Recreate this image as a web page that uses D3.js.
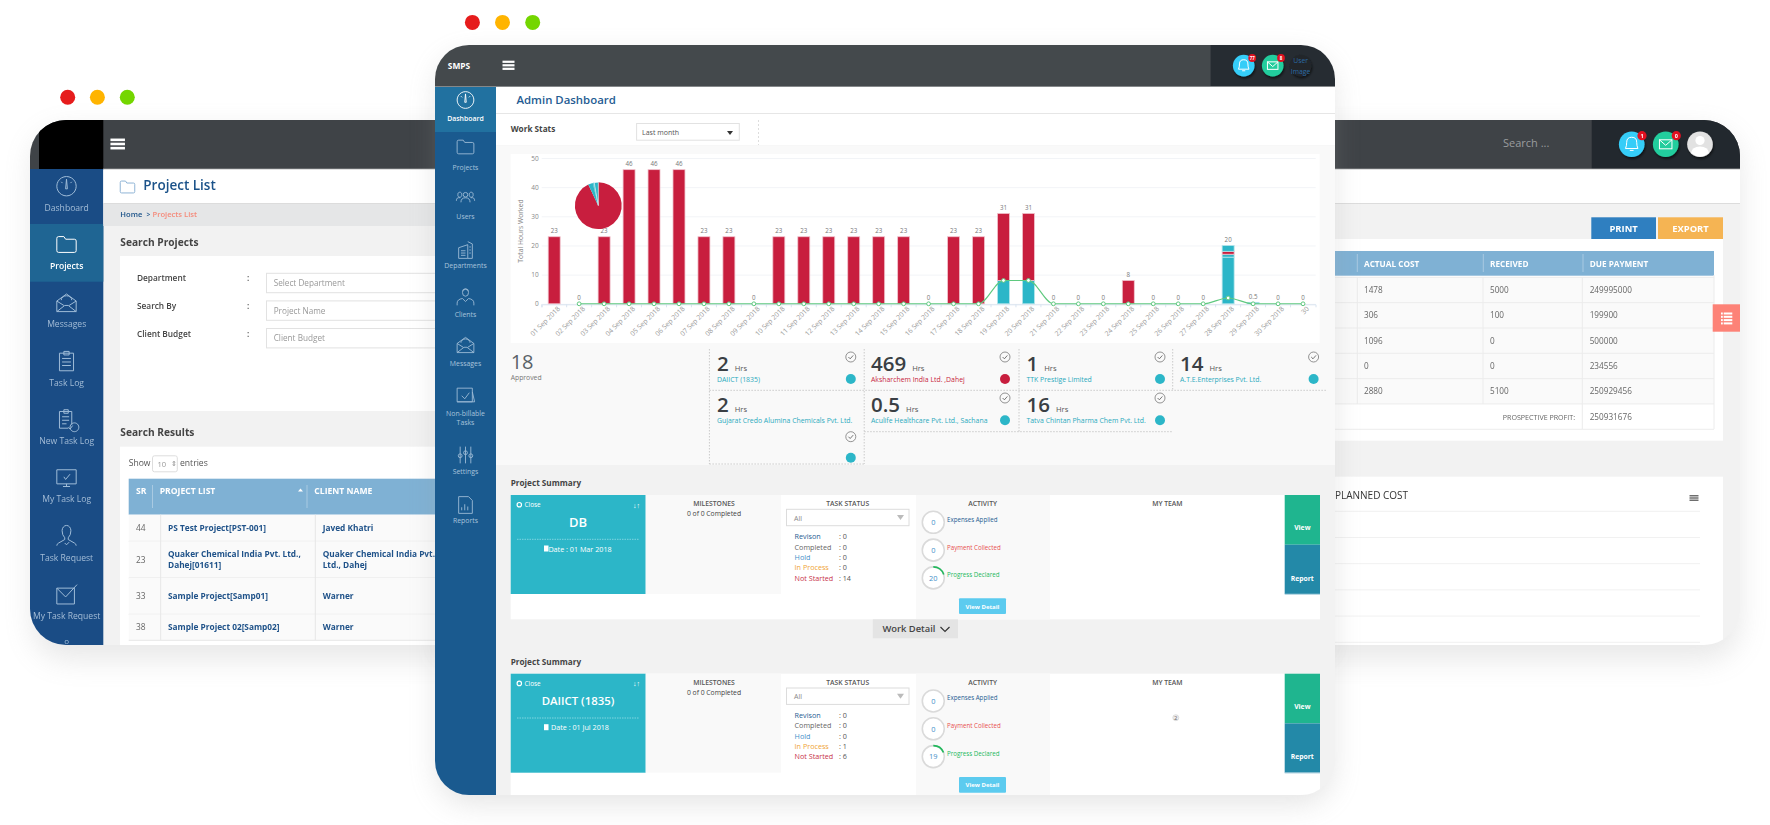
<!DOCTYPE html>
<html>
<head>
<meta charset="utf-8">
<title>SMPS dashboard</title>
<script src="https://cdn.jsdelivr.net/npm/d3@7/dist/d3.min.js"></script>
<style>
  html, body { margin: 0; padding: 0; background: #fff; overflow: hidden; }
  svg { display: block; filter: blur(0.3px); }
  text { font-family: "Open Sans", sans-serif; }
</style>
</head>
<body>
<div id="chart"></div>
<script>
'use strict';

// ─── Data ────────────────────────────────────────────────────────────────────

const dayLabels = ['01 Sep 2018', '02 Sep 2018', '03 Sep 2018', '04 Sep 2018', '05 Sep 2018', '06 Sep 2018',
  '07 Sep 2018', '08 Sep 2018', '09 Sep 2018', '10 Sep 2018', '11 Sep 2018', '12 Sep 2018', '13 Sep 2018',
  '14 Sep 2018', '15 Sep 2018', '16 Sep 2018', '17 Sep 2018', '18 Sep 2018', '19 Sep 2018', '20 Sep 2018',
  '21 Sep 2018', '22 Sep 2018', '23 Sep 2018', '24 Sep 2018', '25 Sep 2018', '26 Sep 2018', '27 Sep 2018',
  '28 Sep 2018', '29 Sep 2018', '30 Sep 2018', '30'];
const tealLower = [0, 0, 0, 0, 0, 0, 0, 0, 0, 0, 0, 0, 0, 0, 0, 0, 0, 0, 8, 8, 0, 0, 0, 0, 0, 0, 0, 16, 0.5, 0, 0];
const tealMiddle = [0, 0, 0, 0, 0, 0, 0, 0, 0, 0, 0, 0, 0, 0, 0, 0, 0, 0, 0, 0, 0, 0, 0, 0, 0, 0, 0, 1, 0, 0, 0];
const redHours = [23, 0, 23, 46, 46, 46, 23, 23, 0, 23, 23, 23, 23, 23, 23, 0, 23, 23, 23, 23, 0, 0, 0, 8, 0, 0, 0, 1, 0, 0, 0];
const tealUpper = [0, 0, 0, 0, 0, 0, 0, 0, 0, 0, 0, 0, 0, 0, 0, 0, 0, 0, 0, 0, 0, 0, 0, 0, 0, 0, 0, 2, 0, 0, 0];
const lineHours = [null, 0, 0, 0, 0, 0, 0, 0, 0, 0, 0, 0, 0, 0, 0, 0, 0, 0, 8, 8, 0, 0, 0, 0, 0, 0, 0, 2, 0, 0, 0];
const yTicks = [0, 10, 20, 30, 40, 50];
const pieHours = [469, 16, 2, 1, 2, 0.5, 14];

const statHours = [2, 469, 1, 14, 2, 0.5, 16];
const statNames = ['DAIICT (1835)', 'Aksharchem India Ltd. ,Dahej', 'TTK Prestige Limited', 'A.T.E.Enterprises Pvt. Ltd.',
  'Gujarat Credo Alumina Chemicals Pvt. Ltd.', 'Aculife Healthcare Pvt. Ltd., Sachana', 'Tatva Chintan Pharma Chem Pvt. Ltd.'];

const summaryNames = ['DB', 'DAIICT (1835)'];
const summaryDates = ['Date : 01 Mar 2018', 'Date : 01 Jul 2018'];
const statusLabels = ['Revison', 'Completed', 'Hold', 'In Process', 'Not Started'];
const summaryStatus = [[0, 0, 0, 0, 14], [0, 0, 0, 1, 6]];
const activityLabels = ['Expenses Applied', 'Payment Collected', 'Progress Declared'];
const summaryActivity = [[0, 0, 20], [0, 0, 19]];

const frontNav = ['Dashboard', 'Projects', 'Users', 'Departments', 'Clients', 'Messages', 'Non-billable', 'Settings', 'Reports'];
const backNav = ['Dashboard', 'Projects', 'Messages', 'Task Log', 'New Task Log', 'My Task Log', 'Task Request', 'My Task Request'];
const searchLabels = ['Department', 'Search By', 'Client Budget'];
const searchHints = ['Select Department', 'Project Name', 'Client Budget'];
const resultSr = ['44', '23', '33', '38'];
const resultProjects = [['PS Test Project[PST-001]'], ['Quaker Chemical India Pvt. Ltd.,', 'Dahej[01611]'], ['Sample Project[Samp01]'], ['Sample Project 02[Samp02]']];
const resultClients = [['Javed Khatri'], ['Quaker Chemical India Pvt.', 'Ltd., Dahej'], ['Warner'], ['Warner']];
const costHeaders = ['ACTUAL COST', 'RECEIVED', 'DUE PAYMENT'];
const actualCost = ['1478', '306', '1096', '0', '2880'];
const received = ['5000', '100', '0', '0', '5100'];
const duePayment = ['249995000', '199900', '500000', '234556', '250929456'];
const prospectiveProfit = '250931676';

// ─── Colours ─────────────────────────────────────────────────────────────────

const RED = '#c81e3e';
const TEAL = '#2cb6c8';
const STATUS_COLORS = ['#1f5c92', '#666', '#3f8fc9', '#f0a436', '#c8324a'];
const ACTIVITY_COLORS = ['#1f5c92', '#e8504f', '#22b85c'];

// ─── Helpers ─────────────────────────────────────────────────────────────────

const svg = d3.select('#chart').append('svg').attr('width', 1770).attr('height', 825);
const defs = svg.append('defs');

function box(p, x, y, w, h, fill, rx) {
  const r = p.append('rect').attr('x', x).attr('y', y).attr('width', w).attr('height', h).attr('fill', fill);
  if (rx) r.attr('rx', rx);
  return r;
}

function label(p, x, y, s, size, fill, weight, anchor) {
  return p.append('text').attr('x', x).attr('y', y)
    .attr('font-size', size).attr('fill', fill)
    .attr('font-weight', weight || 400)
    .attr('text-anchor', anchor || 'start')
    .text(s);
}

function rule(p, x1, y1, x2, y2, color, dash) {
  const l = p.append('line').attr('x1', x1).attr('y1', y1).attr('x2', x2).attr('y2', y2)
    .attr('stroke', color).attr('stroke-width', 1);
  if (dash) l.attr('stroke-dasharray', dash);
  return l;
}

function burger(p, cx, cy, w, color, h) {
  [-1, 0, 1].forEach(i => box(p, cx - w / 2, cy + i * h * 1.6 - h / 2, w, h, color));
}

// Outline icons, drawn in a 24x24 box centred on (cx, cy)
const ICONS = {
  gauge: 'M0,-11A11,11 0 1 1 -0.01,-11ZM-1,3L0,-8L1,3ZM-6,-5L-4.5,-3.5M6,-5L4.5,-3.5',
  folder: 'M-11,-7Q-11,-9 -9,-9H-3L-1,-6H9Q11,-6 11,-4V7Q11,9 9,9H-9Q-11,9 -11,7Z',
  users: 'M-3,-3A3,3 0 1 1 3,-3A3,3 0 1 1 -3,-3ZM-6,7Q-6,1 0,1Q6,1 6,7M-10,-3A2.6,2.6 0 1 1 -5,-3A2.6,2.6 0 1 1 -10,-3ZM5,-3A2.6,2.6 0 1 1 10,-3A2.6,2.6 0 1 1 5,-3ZM-12,5Q-12,0 -7,1M12,5Q12,0 7,1',
  building: 'M-9,11V-3L3,-7V11ZM3,-11L9,-8V11H3M-6,1H0M-6,4H0M-6,7H0M5,-4H7M5,0H7M5,4H7',
  client: 'M-4,-6A4,5 0 1 1 4,-6A4,5 0 1 1 -4,-6ZM-11,11V8Q-11,3 -4,2L0,6L4,2Q11,3 11,8V11M-4,-8Q0,-12 4,-8',
  mail: 'M-11,-2L0,-10L11,-2V10H-11ZM-11,10L-2,3H2L11,10M-11,-2L-3,3M11,-2L3,3M-6,-3A6,5 0 1 1 6,-3',
  check: 'M-11,-9H9V9H-11ZM9,-4L12,9H-11M-5,1L-1,5L5,-3',
  sliders: 'M-7,-11V11M0,-11V11M7,-11V11M-9.5,1A2.5,2.5 0 1 0 -4.5,1A2.5,2.5 0 1 0 -9.5,1ZM-2.5,-3A2.5,2.5 0 1 0 2.5,-3A2.5,2.5 0 1 0 -2.5,-3ZM4.5,1A2.5,2.5 0 1 0 9.5,1A2.5,2.5 0 1 0 4.5,1Z',
  report: 'M-9,-11H4L9,-6V11H-9ZM-5,7V3M-1,7V-1M3,7V2',
  clipboard: 'M-8,-9H8V11H-8ZM-3,-11H3V-7H-3ZM-5,-3H5M-5,1H5M-5,5H5',
  newlog: 'M-8,-9H6V6M-8,-9V10H2M-3,-11H2V-7H-3ZM-5,-3H3M-5,1H3M-5,5H0M4,9A5,5 0 1 0 4,8.9ZM2,9L4,11L7,7',
  monitor: 'M-11,-9H11V7H-11ZM-4,10H4M0,7V10M-3,-1L-1,2L4,-4',
  person: 'M-5,-6A5,6 0 1 1 5,-6Q5,-1 2,2V4L9,8Q11,9 11,11M-5,-6Q-5,-1 -2,2V4L-9,8Q-11,9 -11,11M-2,8L0,10L3,7',
  request: 'M-11,-7H9V11H-11ZM-11,-7L-1,3L12,-11'
};

function icon(p, name, cx, cy, k, color, width) {
  return p.append('path').attr('d', ICONS[name])
    .attr('transform', `translate(${cx},${cy}) scale(${k})`)
    .attr('fill', 'none').attr('stroke', color).attr('stroke-width', (width || 1) / k);
}

function envelope(p, cx, cy, w, h, color) {
  p.append('rect').attr('x', cx - w / 2).attr('y', cy - h / 2).attr('width', w).attr('height', h)
    .attr('fill', 'none').attr('stroke', color);
  p.append('path').attr('d', `M${cx - w / 2},${cy - h / 2}L${cx},${cy + 1}L${cx + w / 2},${cy - h / 2}`)
    .attr('fill', 'none').attr('stroke', color);
}

function bell(p, cx, cy, k, color) {
  p.append('path')
    .attr('d', 'M-5,4Q-4,2 -4,-1Q-4,-5 0,-5Q4,-5 4,-1Q4,2 5,4ZM-1.5,5.5H1.5')
    .attr('transform', `translate(${cx},${cy}) scale(${k})`)
    .attr('fill', 'none').attr('stroke', color).attr('stroke-width', 1 / k);
}

// Filters and window clips
const winShadow = defs.append('filter').attr('id', 'winShadow').attr('x', '-10%').attr('y', '-15%').attr('width', '120%').attr('height', '130%');
winShadow.append('feGaussianBlur').attr('stdDeviation', 14);
const badgeShadow = defs.append('filter').attr('id', 'badgeShadow').attr('x', '-50%').attr('y', '-50%').attr('width', '200%').attr('height', '200%');
badgeShadow.append('feDropShadow').attr('dx', 1).attr('dy', 2).attr('stdDeviation', 1.2).attr('flood-color', '#000').attr('flood-opacity', 0.55);

defs.append('clipPath').attr('id', 'backClip').append('rect')
  .attr('x', 30).attr('y', 120).attr('width', 1710).attr('height', 525).attr('rx', 36);
defs.append('clipPath').attr('id', 'frontClip').append('rect')
  .attr('x', 435).attr('y', 45).attr('width', 900).attr('height', 750).attr('rx', 34);

// ─── Back window ─────────────────────────────────────────────────────────────

function drawBackWindow() {
  box(svg, 32, 130, 1708, 530, '#9a9a9a', 36).attr('opacity', 0.22).attr('filter', 'url(#winShadow)');
  [[67.7, '#e61c1c'], [97.4, '#ffb400'], [127.3, '#74d600']].forEach(d => {
    svg.append('circle').attr('cx', d[0]).attr('cy', 97.3).attr('r', 7.5).attr('fill', d[1]);
  });

  const g = svg.append('g').attr('clip-path', 'url(#backClip)');
  box(g, 30, 120, 1710, 525, '#f2f2f2');

  // top bar
  box(g, 30, 120, 1710, 49, '#3f4347');
  box(g, 39, 120, 64.3, 49, '#000');
  box(g, 1591.7, 120, 150, 49, '#22282e');
  rule(g, 103, 169, 1740, 169, '#8a8d8f');
  burger(g, 117.7, 144, 14.5, '#fff', 2.6);
  label(g, 1503, 146.7, 'Search ...', 11, '#9a9c9e');

  [[1631.7, '#36cdf8'], [1665.7, '#22cd9d'], [1700, '#e2e2e2']].forEach(d => {
    g.append('circle').attr('cx', d[0]).attr('cy', 144.3).attr('r', 12.8).attr('fill', d[1]).attr('filter', 'url(#badgeShadow)');
  });
  bell(g, 1631.7, 143.5, 1.25, '#fff');
  envelope(g, 1665.7, 144.3, 12.5, 9, '#fff');
  g.append('circle').attr('cx', 1700).attr('cy', 140.5).attr('r', 4.6).attr('fill', '#fff');
  g.append('path').attr('d', 'M1691,153Q1692,146.5 1700,146.5Q1708,146.5 1709,153Q1700,160 1691,153Z').attr('fill', '#fff');
  [[1642, '1'], [1676.3, '0']].forEach(d => {
    g.append('circle').attr('cx', d[0]).attr('cy', 135.7).attr('r', 4.6).attr('fill', '#e01020');
    label(g, d[0], 137.6, d[1], 5.5, '#fff', 700, 'middle');
  });

  // sidebar
  box(g, 30, 169, 73.3, 476, '#1a4c85');
  box(g, 30, 224, 73.3, 57.7, '#1f6593');
  const backIcons = ['gauge', 'folder', 'mail', 'clipboard', 'newlog', 'monitor', 'person', 'request'];
  backNav.forEach((name, i) => {
    const y = 210.7 + i * 58.3;
    const on = i === 1;
    label(g, 66.7, y, name, 8.6, on ? '#fff' : '#a4bdd7', on ? 600 : 400, 'middle');
    icon(g, backIcons[i], 66.5, y - 24.5, 0.88, on ? '#fff' : '#9fbcd8', 1);
  });
  label(g, 66.7, 644, 'o', 8, '#9fbcd8', 400, 'middle');

  // header + breadcrumb
  box(g, 103.3, 169.5, 1640, 34, '#fff');
  rule(g, 103.3, 203.5, 1740, 203.5, '#dcdcdc');
  icon(g, 'folder', 127.5, 187, 0.66, '#8fb4d6', 1);
  label(g, 143.3, 190, 'Project List', 13.5, '#1b5289', 600);
  box(g, 103.3, 204, 340, 22, '#e5e6e7');
  label(g, 120.3, 217.3, 'Home', 7.6, '#1b5289', 600);
  label(g, 146.5, 217.3, '>', 6.5, '#1b5289', 600);
  label(g, 152.5, 217.3, 'Projects List', 7.6, '#f58a7a', 600);

  // search form
  label(g, 120.3, 245.7, 'Search Projects', 10.2, '#444', 700);
  box(g, 120, 256, 320, 155, '#fff');
  searchLabels.forEach((name, i) => {
    const y = 281.3 + i * 27.6;
    label(g, 137, y, name, 8.3, '#444', 600);
    label(g, 247, y, ':', 8.3, '#444', 600);
    box(g, 266.5, y - 8, 180, 19.4, '#fff').attr('stroke', '#e2e2e2');
    label(g, 273.7, y + 4.7, searchHints[i], 8.2, '#999');
  });

  // results table
  label(g, 120.3, 436, 'Search Results', 10.2, '#444', 700);
  box(g, 120, 446.7, 320, 199, '#fff');
  label(g, 128.7, 465.7, 'Show', 8.6, '#555');
  box(g, 152.5, 455.8, 24.8, 16, '#fff', 2).attr('stroke', '#ddd');
  label(g, 157.5, 466.5, '10', 7.6, '#999');
  label(g, 170.5, 466, '⇕', 6.5, '#888');
  label(g, 180, 465.7, 'entries', 8.6, '#555');

  box(g, 128.7, 478.7, 320, 36, '#7fb1d4');
  label(g, 136, 494, 'SR', 8.6, '#fff', 700);
  label(g, 159.7, 494, 'PROJECT LIST', 8.6, '#fff', 700);
  label(g, 314.3, 494, 'CLIENT NAME', 8.6, '#fff', 700);
  rule(g, 152.5, 485, 152.5, 508, '#a9cae2');
  rule(g, 307, 485, 307, 508, '#a9cae2');
  g.append('path').attr('d', 'M298,491.5L303,491.5L300.5,488.5Z').attr('fill', '#fff');

  const rowTops = [514.7, 541.3, 578, 614.3, 640.3];
  resultSr.forEach((sr, i) => {
    const top = rowTops[i];
    const bottom = rowTops[i + 1];
    box(g, 128.7, top, 310, bottom - top, '#fafafa');
    rule(g, 128.7, bottom, 440, bottom, '#e7e7e7');
    const mid = (top + bottom) / 2;
    label(g, 136, mid + 3, sr, 8.4, '#666');
    const lines = resultProjects[i].length;
    resultProjects[i].forEach((s, j) => label(g, 168, mid + 3 + (j - (lines - 1) / 2) * 11.4, s, 8.3, '#1f5289', 700));
    resultClients[i].forEach((s, j) => label(g, 322.7, mid + 3 + (j - (resultClients[i].length - 1) / 2) * 11.4, s, 8.3, '#1f5289', 700));
  });
  rule(g, 160.7, 514.7, 160.7, 640, '#e7e7e7');
  rule(g, 315.3, 514.7, 315.3, 640, '#e7e7e7');

  // cost table on the right
  box(g, 1591.3, 217.3, 64.7, 22, '#2f7fc0');
  box(g, 1658, 217.3, 65, 22, '#f5b453');
  label(g, 1623.6, 231.8, 'PRINT', 9.4, '#fff', 700, 'middle');
  label(g, 1690.5, 231.8, 'EXPORT', 9.4, '#fff', 700, 'middle');
  box(g, 1300, 239, 423, 201.7, '#fff');
  box(g, 1300, 251, 414, 24.7, '#7fb1d4');

  const colX = [1364, 1490, 1589.7];
  costHeaders.forEach((h, i) => {
    label(g, colX[i], 266.5, h, 8.2, '#fff', 700);
    rule(g, colX[i] - 6.7, 254, colX[i] - 6.7, 272, '#a9cae2');
  });
  d3.range(5).forEach(i => box(g, 1300, 277.3 + i * 25.33, 414, 25.33, '#fafafa'));
  d3.range(7).forEach(i => rule(g, 1300, 277.3 + i * 25.33, 1714, 277.3 + i * 25.33, '#ececec'));
  [actualCost, received, duePayment].forEach((col, c) => {
    col.forEach((v, i) => label(g, colX[c], 293 + i * 25.33, v, 8.2, '#666'));
  });
  label(g, 1575, 419.6, 'PROSPECTIVE PROFIT:', 7.1, '#666', 400, 'end');
  label(g, colX[2], 419.6, prospectiveProfit, 8.2, '#666');
  rule(g, 1357.3, 277.3, 1357.3, 404, '#ececec');
  rule(g, 1483, 277.3, 1483, 404, '#ececec');
  rule(g, 1582.3, 277.3, 1582.3, 429, '#ececec');
  rule(g, 1714, 275, 1714, 429, '#ececec');

  // floating list button
  box(g, 1712.7, 304.3, 27.3, 27.4, '#fd8277');
  d3.range(4).forEach(i => {
    box(g, 1721, 312.5 + i * 3.3, 1.8, 2, '#fff');
    box(g, 1723.7, 312.5 + i * 3.3, 8.6, 2, '#fff');
  });

  // planned cost panel
  box(g, 1300, 476.7, 423, 170, '#fff');
  label(g, 1335, 498.7, 'PLANNED COST', 10, '#333');
  burger(g, 1694, 498, 9, '#666', 1.4);
  d3.range(6).forEach(i => rule(g, 1335, 511.3 + i * 26.2, 1700, 511.3 + i * 26.2, '#f1f1f1'));
}

// ─── Front window ────────────────────────────────────────────────────────────

function drawFrontWindow() {
  box(svg, 437, 56, 896, 748, '#9a9a9a', 34).attr('opacity', 0.26).attr('filter', 'url(#winShadow)');
  [[472.4, '#e61c1c'], [502.5, '#ffb400'], [532.7, '#74d600']].forEach(d => {
    svg.append('circle').attr('cx', d[0]).attr('cy', 22.4).attr('r', 7.5).attr('fill', d[1]);
  });

  const g = svg.append('g').attr('clip-path', 'url(#frontClip)');
  box(g, 435, 45, 900, 750, '#f2f2f2');

  // top bar
  box(g, 435, 45, 900, 41.5, '#44494c');
  box(g, 1210.6, 45, 125, 41.5, '#262c32');
  rule(g, 435, 86.5, 1335, 86.5, '#85888a');
  label(g, 459, 68.5, 'SMPS', 8.4, '#fff', 700, 'middle');
  burger(g, 508.5, 65.3, 12, '#fff', 2.2);

  [[1243.7, '#36cdf8'], [1272.7, '#22cd9d'], [1300.6, '#20262c']].forEach(d => {
    g.append('circle').attr('cx', d[0]).attr('cy', 65.6).attr('r', 10.8).attr('fill', d[1]).attr('filter', 'url(#badgeShadow)');
  });
  bell(g, 1243.7, 65, 1.05, '#fff');
  envelope(g, 1272.7, 65.6, 10.5, 7.5, '#fff');
  label(g, 1300.6, 63, 'User', 6.8, '#2a6aa5', 400, 'middle');
  label(g, 1300.6, 73.5, 'Image', 6.8, '#2a6aa5', 400, 'middle');
  [[1252.2, '77'], [1281, '8']].forEach(d => {
    g.append('circle').attr('cx', d[0]).attr('cy', 58).attr('r', 3.9).attr('fill', '#e01020');
    label(g, d[0], 59.6, d[1], 4.4, '#fff', 700, 'middle');
  });

  // sidebar
  box(g, 435, 87, 61, 708, '#1a5a8f');
  box(g, 435, 87, 61, 45, '#2171a0');
  const frontIcons = ['gauge', 'folder', 'users', 'building', 'client', 'mail', 'check', 'sliders', 'report'];
  const navLabelY = [121, 170.3, 219.3, 268.3, 317.3, 366.3, 415.6, 474.3, 523.3];
  const navIconY = [100, 147, 197, 250, 297, 345, 395, 455, 505];
  frontNav.forEach((name, i) => {
    const on = i === 0;
    label(g, 465.5, navLabelY[i], name, 6.9, on ? '#fff' : '#a9c4dc', on ? 600 : 400, 'middle');
    icon(g, frontIcons[i], 465.5, navIconY[i], 0.76, on ? '#fff' : '#9dbbd6', 0.9);
  });
  label(g, 465.5, 425, 'Tasks', 6.9, '#a9c4dc', 400, 'middle');

  // header + filter strip
  box(g, 496, 87, 839, 26, '#fff');
  rule(g, 496, 113.5, 1335, 113.5, '#e6e6e6');
  label(g, 516.5, 104.4, 'Admin Dashboard', 11.4, '#1f5c92', 600);
  box(g, 496, 114, 839, 32, '#fff');
  rule(g, 496, 146, 1335, 146, '#eee');
  label(g, 510.7, 132, 'Work Stats', 8.2, '#444', 700);
  box(g, 636.6, 123.5, 102.7, 16.7, '#fff').attr('stroke', '#e2e2e2');
  label(g, 642, 135, 'Last month', 7, '#555');
  g.append('path').attr('d', 'M727,131H733L730,135Z').attr('fill', '#333');
  rule(g, 758.5, 120, 758.5, 145, '#ddd', '2,2');

  drawWorkChart(g);
  drawStatCards(g);
  drawSummary(g, 0, 0);
  drawSummary(g, 178.7, 1);

  // work detail tab
  box(g, 872.8, 619.3, 85.2, 19, '#e4e4e4');
  label(g, 882.4, 632, 'Work Detail', 9.4, '#444', 600);
  g.append('path').attr('d', 'M940.5,627L945,631.5L949.5,627').attr('fill', 'none').attr('stroke', '#333').attr('stroke-width', 1.2);
}

function drawWorkChart(parent) {
  box(parent, 496, 146, 839, 197, '#f9f9f9');
  box(parent, 510.7, 154, 809, 189, '#fff');
  const g = parent.append('g');

  const x = d3.scaleBand().domain(d3.range(dayLabels.length)).range([541.7, 1315.5]).paddingInner(0.52).paddingOuter(0.26);
  const y = d3.scaleLinear().domain([0, 50]).range([303.8, 158]);

  // grid
  g.append('g').attr('transform', 'translate(541.7,0)')
    .call(d3.axisLeft(y).tickValues(yTicks).tickSize(-774).tickPadding(3).tickFormat(d3.format('d')))
    .call(a => a.select('.domain').remove())
    .call(a => a.selectAll('.tick line').attr('stroke', '#f2f4f7'))
    .call(a => a.selectAll('text').attr('fill', '#888').attr('font-size', 6.5).attr('font-family', '"Open Sans", sans-serif'));

  g.append('text').attr('transform', 'translate(522.5,231) rotate(-90)').attr('text-anchor', 'middle')
    .attr('font-size', 6.8).attr('fill', '#888').text('Total Hours Worked');

  // x axis, ticks sit on the band edges
  g.append('g').attr('transform', 'translate(0,304.3)')
    .call(d3.axisBottom(x).tickSize(3).tickFormat(i => dayLabels[i]))
    .call(a => a.select('.domain').attr('stroke', '#d9e4f0'))
    .call(a => a.selectAll('.tick line').attr('stroke', '#d9e4f0').attr('x1', -x.step() / 2).attr('x2', -x.step() / 2))
    .call(a => a.selectAll('text')
      .attr('fill', '#999').attr('font-size', 6.8).attr('font-family', '"Open Sans", sans-serif')
      .attr('text-anchor', 'end').attr('dx', 1).attr('dy', 2).attr('y', 6)
      .attr('transform', 'rotate(-45)'));

  // stacked bars
  const keys = ['lower', 'middle', 'red', 'upper'];
  const rows = dayLabels.map((d, i) => ({ i, lower: tealLower[i], middle: tealMiddle[i], red: redHours[i], upper: tealUpper[i] }));
  const stacked = d3.stack().keys(keys)(rows);
  const fill = { lower: TEAL, middle: TEAL, red: RED, upper: TEAL };
  const edge = { lower: '#b5e5eb', middle: '#b5e5eb', red: '#f0c3cd', upper: '#b5e5eb' };

  g.selectAll('.series').data(stacked).enter().append('g')
    .attr('class', 'series')
    .attr('fill', s => fill[s.key])
    .attr('stroke', s => edge[s.key])
    .attr('stroke-width', 0.8)
    .selectAll('rect')
    .data(s => s.filter(d => d[1] > d[0]))
    .enter().append('rect')
    .attr('x', d => x(d.data.i))
    .attr('y', d => y(d[1]))
    .attr('width', x.bandwidth())
    .attr('height', d => y(d[0]) - y(d[1]));

  // totals above the bars
  g.selectAll('.total').data(rows).enter().append('text')
    .attr('class', 'total')
    .attr('x', d => x(d.i) + x.bandwidth() / 2)
    .attr('y', d => y(d3.sum(keys, k => d[k])) - 3.5)
    .attr('text-anchor', 'middle').attr('font-size', 6.2).attr('fill', '#777')
    .text(d => d3.sum(keys, k => d[k]));

  // spline and markers
  const line = d3.line()
    .defined(d => d !== null)
    .x((d, i) => x(i) + x.bandwidth() / 2)
    .y(d => y(d))
    .curve(d3.curveMonotoneX);
  g.append('path').attr('d', line(lineHours)).attr('fill', 'none').attr('stroke', '#5fc97f').attr('stroke-width', 1.1);
  g.selectAll('.mark').data(lineHours.map((v, i) => ({ v, i })).filter(d => d.v !== null)).enter().append('circle')
    .attr('class', 'mark')
    .attr('cx', d => x(d.i) + x.bandwidth() / 2)
    .attr('cy', d => y(d.v))
    .attr('r', 1.9)
    .attr('fill', '#fff')
    .attr('stroke', '#5fc97f')
    .attr('stroke-width', 1);

  // pie over the bars
  const arc = d3.arc().innerRadius(0).outerRadius(23.4);
  const pie = d3.pie().sort(null)(pieHours);
  g.append('g').attr('transform', 'translate(598.3,205.7)')
    .selectAll('path').data(pie).enter().append('path')
    .attr('d', arc)
    .attr('fill', d => d.index === 0 ? RED : TEAL)
    .attr('stroke', d => d.index === 6 ? '#fff' : 'none')
    .attr('stroke-width', 0.5);
}

function drawStatCards(parent) {
  box(parent, 496, 343, 839, 122, '#f9f9f9');
  const g = parent.append('g');
  label(g, 510.7, 369, '18', 20, '#5a6268');
  label(g, 510.7, 380, 'Approved', 6.8, '#777');

  const DASH = '#cacaca';
  rule(g, 709.4, 349, 709.4, 464, DASH, '1.5,1.5');
  rule(g, 864.2, 349, 864.2, 464, DASH, '1.5,1.5');
  rule(g, 1019, 349, 1019, 432, DASH, '1.5,1.5');
  rule(g, 1172.7, 349, 1172.7, 390.3, DASH, '1.5,1.5');
  rule(g, 709.4, 390.3, 1327, 390.3, DASH, '1.5,1.5');
  rule(g, 864.2, 431.7, 1172.7, 431.7, DASH, '1.5,1.5');
  rule(g, 709.4, 464, 864.2, 464, DASH, '1.5,1.5');

  // left edge, mark column, baseline row
  const cells = [
    [717, 850.8, 0], [871, 1005, 0], [1026.5, 1160, 0], [1180, 1313.6, 0],
    [717, 850.8, 1], [871, 1005, 1], [1026.5, 1160, 1]
  ];
  const isRed = name => name.indexOf('Aksharchem') === 0;
  statHours.forEach((hrs, i) => {
    const [tx, mx, row] = cells[i];
    const base = row === 0 ? 370.7 : 412;
    const name = statNames[i];
    const t = label(g, tx, base, hrs, 20.5, '#3a3f44', 600);
    t.append('tspan').attr('dx', 6).attr('font-size', 7.6).attr('font-weight', 400).attr('fill', '#555').text('Hrs');
    label(g, tx, base + 11, name, 6.9, isRed(name) ? RED : '#2aa9bd');

    // the long name pushes its marks down in the first column
    const spill = i === 4;
    const checkY = row === 0 ? 357 : (spill ? 436.7 : 398);
    const dotY = row === 0 ? 379 : (spill ? 457.7 : 420.3);
    g.append('circle').attr('cx', mx).attr('cy', checkY).attr('r', 5).attr('fill', '#fafafa').attr('stroke', '#777').attr('stroke-width', 0.8);
    g.append('path').attr('d', `M${mx - 2.4},${checkY}l1.8,1.8l3,-3.4`).attr('fill', 'none').attr('stroke', '#555').attr('stroke-width', 0.8);
    g.append('circle').attr('cx', mx).attr('cy', dotY).attr('r', 5).attr('fill', isRed(name) ? RED : TEAL);
  });
}

function drawSummary(parent, dy, n) {
  const g = parent.append('g').attr('transform', `translate(0,${dy})`);
  label(g, 510.7, 486, 'Project Summary', 8.2, '#444', 700);

  box(g, 510.7, 495, 809.3, 124.3, '#fff');
  box(g, 510.7, 495, 135, 99, TEAL);
  box(g, 645.7, 495, 135.3, 99, '#f9f9f9');
  box(g, 916, 495, 134, 124.3, '#f9f9f9');
  box(g, 1284.7, 495, 35.3, 49.7, '#1fb58f');
  box(g, 1284.7, 544.7, 35.3, 49.3, '#2389a8');
  rule(g, 1284.7, 594.2, 1320, 594.2, '#9cc8d8');

  // project card
  g.append('circle').attr('cx', 519.3).attr('cy', 504.7).attr('r', 2.2).attr('fill', 'none').attr('stroke', '#fff').attr('stroke-width', 1.2);
  label(g, 524.5, 507.3, 'Close', 6.4, '#fff');
  label(g, 636.6, 507.5, '↓↑', 7, '#fff', 700, 'middle');
  label(g, 578, 526.7, summaryNames[n], n === 0 ? 13 : 11.4, '#fff', 600, 'middle');
  rule(g, 517, 539.3, 639, 539.3, '#7fd5e0', '1.5,1');
  label(g, 580, 551.7, summaryDates[n], 7.2, '#fff', 400, 'middle');
  box(g, 544, 545.5, 4.5, 6, '#fff');

  // milestones
  label(g, 714, 506, 'MILESTONES', 6.8, '#555', 600, 'middle');
  label(g, 714, 516, '0 of 0 Completed', 6.8, '#444', 400, 'middle');

  // task status
  label(g, 847.7, 506, 'TASK STATUS', 6.8, '#555', 600, 'middle');
  box(g, 786.5, 509.3, 122.5, 16.4, '#fff').attr('stroke', '#dcdcdc');
  label(g, 794, 520.5, 'All', 7, '#888');
  g.append('path').attr('d', 'M897,515H904L900.5,520Z').attr('fill', '#bbb');
  statusLabels.forEach((name, i) => {
    const y = 539.3 + i * 10.35;
    label(g, 794.6, y, name, 7.2, STATUS_COLORS[i]);
    label(g, 839, y, ': ' + summaryStatus[n][i], 7.2, '#555');
  });

  // activity
  label(g, 982.6, 506, 'ACTIVITY', 6.8, '#555', 600, 'middle');
  activityLabels.forEach((name, i) => {
    const cy = 522.3 + i * 27.8;
    const value = summaryActivity[n][i];
    g.append('circle').attr('cx', 933.3).attr('cy', cy).attr('r', 11).attr('fill', '#fff').attr('stroke', '#dadada').attr('stroke-width', 1.6);
    if (value > 0) {
      g.append('path').attr('transform', `translate(933.3,${cy})`)
        .attr('d', d3.arc().innerRadius(10.2).outerRadius(11.8).startAngle(0).endAngle(2 * Math.PI * value / 100)())
        .attr('fill', '#22b85c');
    }
    label(g, 933.3, cy + 2.8, value, 7.4, '#3f8fc9', 400, 'middle');
    label(g, 947, cy - 0.5, name, 6.2, ACTIVITY_COLORS[i]);
  });
  box(g, 959, 598.3, 47, 15.7, '#5ccbef', 1);
  label(g, 982.5, 608.7, 'View Detail', 6, '#fff', 700, 'middle');

  // team and actions
  label(g, 1167.4, 506, 'MY TEAM', 6.8, '#555', 600, 'middle');
  if (n === 1) {
    g.append('circle').attr('cx', 1175.8).attr('cy', 539).attr('r', 3).attr('fill', '#eee').attr('stroke', '#ccc').attr('stroke-width', 0.6);
    label(g, 1175.8, 541.2, statHours[0], 6, '#666', 400, 'middle');
  }
  label(g, 1302.3, 530, 'View', 6.8, '#fff', 700, 'middle');
  label(g, 1302.3, 580.7, 'Report', 6.8, '#fff', 700, 'middle');
}

drawBackWindow();
drawFrontWindow();
</script>
</body>
</html>
